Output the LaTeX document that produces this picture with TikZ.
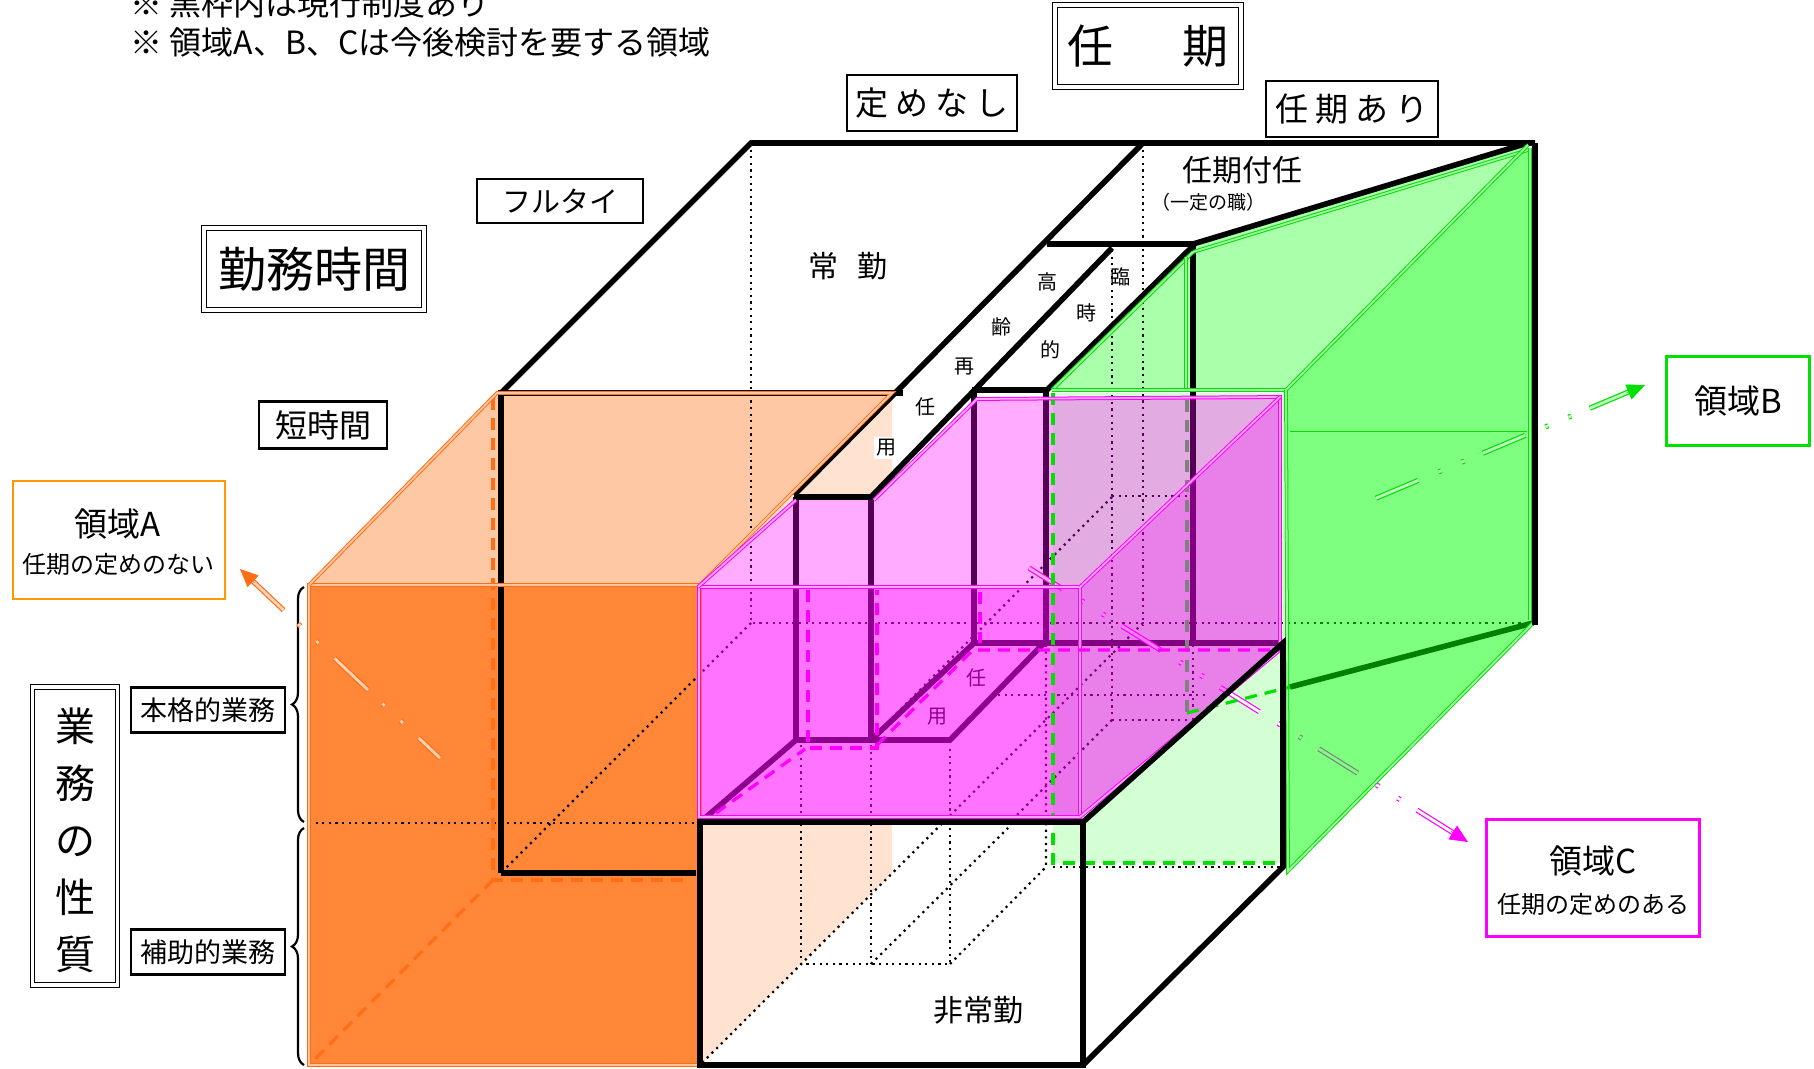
\documentclass[tikz,border=0pt]{standalone}
\usepackage{fontspec}
\setmainfont{Noto Sans CJK JP}
\usetikzlibrary{decorations.pathreplacing,arrows.meta,calc}
\newcommand{\fsz}[1]{\fontsize{#1pt}{#1pt}\selectfont}
\definecolor{oFrontC}{RGB}{255,135,55}
\definecolor{oTopC}{RGB}{255,200,165}
\definecolor{oPaleC}{RGB}{255,226,208}
\definecolor{gFrontC}{RGB}{212,255,212}
\definecolor{gTopC}{RGB}{170,255,170}
\definecolor{oLineC}{RGB}{255,110,20}
\definecolor{boxOrange}{RGB}{255,153,0}
\definecolor{gLineC}{RGB}{0,225,0}
\definecolor{magC}{RGB}{255,0,255}
\definecolor{purpC}{RGB}{128,0,128}
\definecolor{greyC}{RGB}{128,128,128}
\begin{document}
\begin{tikzpicture}[x=0.5pt,y=-0.5pt,
  thk/.style={line width=2.8pt},
  hid/.style={line width=1.1pt, dash pattern=on 1.1pt off 2.2pt},
  odash/.style={draw=oLineC, line width=1.6pt, dash pattern=on 6pt off 4pt},
  pdash/.style={draw=magC, line width=1.6pt, dash pattern=on 6pt off 4pt},
  gdash/.style={draw=gLineC, line width=1.6pt, dash pattern=on 6pt off 4pt},
  pedge/.style={draw=magC, double=magC!35, double distance=0.9pt, line width=0.5pt},
  oedge/.style={draw=oLineC, double=oLineC!40, double distance=0.9pt, line width=0.5pt},
  gedge/.style={draw=gLineC, double=gLineC!35, double distance=0.9pt, line width=0.5pt},
  lbl/.style={draw, fill=white, line width=1.3pt, inner sep=0pt, align=center},
  dbl/.style={draw, fill=white, double, double distance=1.6pt, line width=0.6pt, inner sep=0pt, align=center},
  striplbl/.style={inner sep=1pt, font=\fsz{10}},
  arrline/.style={double distance=1.4pt, line width=0.6pt, dash pattern=on 23pt off 10pt on 1.5pt off 11pt on 1.5pt off 11pt},
]
\useasboundingbox (0,0) rectangle (1814,1069);

% ---------- fills (back) ----------
\fill[gFrontC] (1053,393) -- (1284,393) -- (1284,863) -- (1053,863) -- cycle;
\fill[gTopC] (1047,390) -- (1192,246) -- (1528,143) -- (1286,390) -- cycle;
\fill[oPaleC] (700,585) -- (892,393) -- (892,482) -- (874,500) -- (796,500) -- cycle;
\fill[oPaleC] (700,822) -- (892,822) -- (892,873) -- (700,1065) -- cycle;
\fill[oFrontC] (309,585) rectangle (700,1065);
\fill[oTopC] (309,585) -- (497,393) -- (892,393) -- (700,585) -- cycle;

% ---------- labels on strips ----------
\node[striplbl] (sKo) at (1047,282) {高};
\node[striplbl] (sRei) at (1001,327) {齢};
\node[striplbl] (sSai) at (964,367) {再};
\node[striplbl] (sNin) at (925,407) {任};
\node[striplbl, fill=white] (sYo) at (886,448) {用};
\node[striplbl] (tRin) at (1120,277) {臨};
\node[striplbl] (tJi) at (1086,313) {時};
\node[striplbl] (tTeki) at (1050,350) {的};
\node[striplbl] (tNin) at (976,678) {任};
\node[striplbl] (tYo) at (937,717) {用};

% ---------- hidden (dotted) lines ----------
\draw[hid] (751,143) -- (751,623) -- (1533,623);
\draw[hid] (751,623) -- (501,873);
\draw[hid] (309,823) -- (700,823);
\draw[hid] (1143,143) -- (1143,625);
\draw[hid] (1112,250) -- (1112,720);
\draw[hid] (1143,623) -- (700,1065);
\draw[hid] (801,745) -- (801,964) -- (950,964) -- (950,745);
\draw[hid] (871,745) -- (871,964);
\draw[hid] (950,964) -- (1046,867) -- (1046,645);
\draw[hid] (871,964) -- (1008,828);
\draw[hid] (1053,867) -- (1281,867);
\draw[hid] (1112,497) -- (875,735);
\draw[hid] (1112,496) -- (1187,496);
\draw[hid] (1112,720) -- (1187,720);
\draw[hid] (998,695) -- (1207,695);
\draw[hid] (1112,720) -- (1012,820);
\draw[hid] (1193,645) -- (1193,720);

% orange dashed hidden edges
\draw[odash] (493,398) -- (493,880) -- (690,880);
\draw[odash] (493,880) -- (309,1065);

% ---------- black structure ----------
\draw[thk] (501,393) -- (751,143) -- (1535,143);
\draw[thk] (501,873) -- (501,393) -- (903,393);
\draw[thk] (501,873) -- (696,873);
\draw[thk] (1143,143) -- (794,495);
\draw[thk] (794,497) -- (873,497);
\draw[thk] (796,497) -- (796,740);
\draw[thk] (871,497) -- (871,740);
\draw[thk] (1112,248) -- (871,497);
\draw[thk] (1047,244) -- (1193,244);
\draw[thk] (1193,244) -- (1193,643);
\draw[thk] (1191,248) -- (1047,390);
\draw[thk] (972,390) -- (1047,390);
\draw[thk] (974,390) -- (974,643);
\draw[thk] (1046,390) -- (1046,643);
\draw[thk] (974,643) -- (1283,643);
\draw[thk] (705,818) -- (796,740) -- (950,740) -- (1044,643);
\draw[thk] (871,740) -- (974,643);
\draw[thk] (1193,244) -- (1528,143);
\draw[thk] (1290,687) -- (1533,623);

% ---------- region C arrow (partly under green) ----------
\coordinate (cTail) at (1029,568);
\coordinate (cHead) at (1468,842);
\draw[arrline, draw=magC, double=white] ($(cHead)!7pt!(cTail)$) -- (cTail);
\draw[magC, line width=0.3pt, -{Triangle[length=9pt,width=8pt]}] ($(cHead)!10pt!(cTail)$) -- (cHead);

% ---------- translucent overlays ----------
\fill[green, opacity=0.5] (1286,390) -- (1528,143) -- (1535,623) -- (1288,871) -- cycle;
\fill[magC, opacity=0.33] (698,587) -- (796,500) -- (874,500) -- (977,399) -- (1280,397) -- (1079,587) -- cycle;
\fill[magC, opacity=0.55] (699,587) rectangle (1080,817);
\fill[magC, opacity=0.5] (1080,587) -- (1280,397) -- (1280,650) -- (1080,817) -- cycle;

% ---------- coloured edges ----------
\draw[oedge] (309,585) rectangle (700,1065);
\draw[oedge] (309,585) -- (497,393) -- (892,393) -- (700,585);

\draw[gedge] (1052,390) -- (1193,252);
\draw[gedge] (1193,252) -- (1528,150);
\draw[gedge] (1186,257) -- (1186,388);
\draw[gedge] (1052,390) -- (1286,390) -- (1528,145);
\draw[gedge] (1286,390) -- (1288,871) -- (1533,623);
\draw[gedge] (1530,148) -- (1530,620);
\draw[gLineC, line width=0.4pt] (1290,431) -- (1527,431);
\draw[gdash] (1053,393) -- (1053,863) -- (1281,863);
\draw[gdash] (1187,713) -- (1290,687);
\draw[greyC, line width=1.6pt, dash pattern=on 6pt off 4pt] (1187,400) -- (1187,712);

\draw[pedge] (699,587) rectangle (1080,817);
\draw[pedge] (698,587) -- (796,500);
\draw[pedge] (874,500) -- (977,399) -- (1280,397) -- (1280,650);
\draw[pedge] (1080,587) -- (1280,397);
\draw[pedge] (1080,817) -- (1280,650);
\draw[pdash] (808,590) -- (808,748) -- (877,748) -- (877,590);
\draw[pdash] (716,813) -- (805,749);
\draw[pdash] (877,745) -- (973,650) -- (1281,650);
\draw[pdash] (980,592) -- (980,643);

% ---------- front black box ----------
\draw[thk] (700,822) rectangle (1083,1065);
\draw[thk] (1083,822) -- (1283,643) -- (1283,867) -- (1083,1065);
\draw[thk] (1535,143) -- (1535,625);

% ---------- inner labels ----------
\node[font=\fsz{15}] (jokin) at (848,266) {常\hspace{10pt}勤};
\node[font=\fsz{15}] (hijokin) at (978,1010) {非常勤};
\node[font=\fsz{15}] (ninkitsuki) at (1242,170) {任期付任};
\node[font=\fsz{9.5}] (ittei) at (1208,202) {（一定の職）};

% ---------- notes ----------
\node[anchor=west, font=\fsz{16}, inner sep=0pt] (note1) at (130,3) {※ 黒枠内は現行制度あり};
\node[anchor=west, font=\fsz{16}, inner sep=0pt] (note2) at (130,42) {※ 領域A、B、Cは今後検討を要する領域};

% ---------- axis label boxes ----------
\node[dbl, minimum width=93pt, minimum height=41pt, font=\fsz{23}] (ninki) at (1148,46) {任\hspace{1.5em}期};
\node[lbl, minimum width=85pt, minimum height=28pt, font=\fsz{16.5}] (sadame) at (932,103) {定\hspace{3.5pt}め\hspace{3.5pt}な\hspace{3.5pt}し};
\node[lbl, minimum width=86pt, minimum height=28pt, font=\fsz{16.5}] (ari) at (1352,109) {任\hspace{3.5pt}期\hspace{3.5pt}あ\hspace{3.5pt}り};
\node[lbl, minimum width=83pt, minimum height=22pt, font=\fsz{14.5}] (full) at (560,201) {フルタイ};
\node[dbl, minimum width=110pt, minimum height=41pt, font=\fsz{24}] (kinmu) at (314,269) {勤務時間};
\node[lbl, minimum width=64pt, minimum height=23.5pt, font=\fsz{16}] (tan) at (323,425) {短時間};
\node[lbl, minimum width=77pt, minimum height=22.5pt, font=\fsz{13.5}] (honkaku) at (208,710) {本格的業務};
\node[lbl, minimum width=77pt, minimum height=22.5pt, font=\fsz{13.5}] (hojo) at (208,952) {補助的業務};
\node[dbl, minimum width=42.5pt, minimum height=149pt] (sei) at (75,836) {};
\node[align=center, font={\fontsize{20pt}{28.5pt}\selectfont}, inner sep=0pt] (seiT) at (75,840) {業\\務\\の\\性\\質};

% braces
\draw[decorate, decoration={brace, amplitude=6pt}, line width=1.1pt] (304,822) -- (304,587);
\draw[decorate, decoration={brace, amplitude=6pt}, line width=1.1pt] (304,1065) -- (304,828);

% ---------- region boxes ----------
\node[draw=boxOrange, fill=white, line width=1.4pt, minimum width=106pt, minimum height=59pt] (rA) at (119,540) {};
\node[font=\fsz{16.5}] (rAt) at (118,524) {領域A};
\node[font=\fsz{12}] (rAs) at (118,564) {任期の定めのない};
\node[draw=gLineC, fill=white, line width=1.5pt, minimum width=71.5pt, minimum height=44.5pt, font=\fsz{16.5}] (rB) at (1738,401) {領域B};
\node[draw=magC, fill=white, line width=1.4pt, minimum width=106.5pt, minimum height=58.5pt] (rC) at (1593,878) {};
\node[font=\fsz{16.5}] (rCt) at (1593,861) {領域C};
\node[font=\fsz{12}] (rCs) at (1593,904) {任期の定めのある};

% ---------- arrows A and B ----------
\coordinate (aTail) at (440,758);
\coordinate (aHead) at (240,569);
\draw[arrline, draw=oLineC, double=oLineC!30] ($(aHead)!7pt!(aTail)$) -- (aTail);
\draw[oLineC, line width=0.3pt, -{Triangle[length=9pt,width=8pt]}] ($(aHead)!10pt!(aTail)$) -- (aHead);
\coordinate (bTail) at (1374,499);
\coordinate (bHead) at (1645,385);
\draw[arrline, draw=gLineC, double=gLineC!25] ($(bHead)!7pt!(bTail)$) -- (bTail);
\draw[gLineC, line width=0.3pt, -{Triangle[length=9pt,width=8pt]}] ($(bHead)!10pt!(bTail)$) -- (bHead);
\end{tikzpicture}
\end{document}
